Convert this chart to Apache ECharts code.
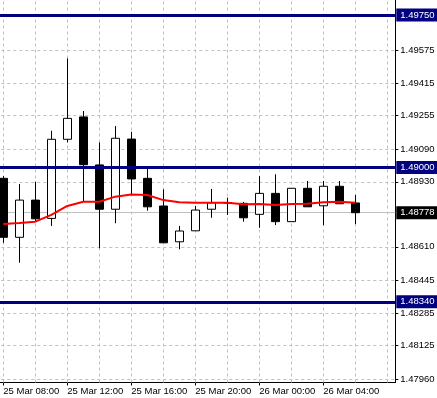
<!DOCTYPE html>
<html><head><meta charset="utf-8">
<script src="https://cdn.jsdelivr.net/npm/echarts@6/dist/echarts.min.js"></script>
<style>html,body{margin:0;padding:0;background:#fff}#c{width:437px;height:398px}</style>
</head><body><div id="c"></div>
<script>
const categories = [
  '25 Mar 08:00','25 Mar 09:00','25 Mar 10:00','25 Mar 11:00','25 Mar 12:00','25 Mar 13:00',
  '25 Mar 14:00','25 Mar 15:00','25 Mar 16:00','25 Mar 17:00','25 Mar 18:00','25 Mar 19:00',
  '25 Mar 20:00','25 Mar 21:00','25 Mar 22:00','25 Mar 23:00','26 Mar 00:00','26 Mar 01:00',
  '26 Mar 02:00','26 Mar 03:00','26 Mar 04:00','26 Mar 05:00','26 Mar 06:00','26 Mar 07:00',
  '26 Mar 08:00'
];
const opens  = [1.48947,1.48657,1.48840,1.48750,1.49139,1.49249,1.49013,1.48795,1.49140,1.48947,1.48811,1.48635,1.48689,1.48795,1.48825,1.48824,1.48770,1.48873,1.48734,1.48898,1.48812,1.48908,1.48826];
const closes = [1.48657,1.48840,1.48748,1.49139,1.49242,1.49014,1.48795,1.49144,1.48944,1.48807,1.48630,1.48688,1.48791,1.48827,1.48828,1.48753,1.48873,1.48734,1.48898,1.48807,1.48908,1.48822,1.48778];
const lows   = [1.48630,1.48532,1.48734,1.48713,1.49124,1.48832,1.48603,1.48726,1.48865,1.48788,1.48630,1.48598,1.48689,1.48753,1.48767,1.48734,1.48704,1.48717,1.48734,1.48807,1.48717,1.48822,1.48722];
const highs  = [1.48958,1.48919,1.48930,1.49181,1.49537,1.49278,1.49124,1.49204,1.49176,1.49003,1.48893,1.48713,1.48811,1.48895,1.48852,1.48831,1.48958,1.48967,1.48898,1.48934,1.48934,1.48934,1.48865];
const maValues = [1.48722,1.48727,1.48734,1.48767,1.48811,1.48832,1.48832,1.48857,1.48868,1.48865,1.48840,1.48829,1.48827,1.48827,1.48827,1.48819,1.48821,1.48816,1.48821,1.48822,1.48829,1.48832,1.48827];
const yTickValues = [1.47960,1.48125,1.48285,1.48445,1.48610,1.48930,1.49090,1.49255,1.49415,1.49575];
const levelValues = [1.49750,1.49000,1.48340];
const currentPrice = 1.48778;
const xGridIndices = [0,2,4,6,8,10,12,14,16,18,20,22,24];
const yMin = 1.47943, yMax = 1.49824;

function hasFont(name){
  const c = document.createElement('canvas').getContext('2d');
  const s = '1.49575 25 Mar 08:00';
  c.font = "20px monospace"; const w0 = c.measureText(s).width;
  c.font = "20px '" + name + "', monospace"; return c.measureText(s).width !== w0;
}
const narrow = hasFont('Liberation Sans Narrow');
const FONT = narrow ? "'Liberation Sans Narrow'" : "'Liberation Sans'";
const FSIZE = narrow ? 11 : 9.5;

const chart = echarts.init(document.getElementById('c'), null, {renderer:'canvas'});
const labelEvery4 = (i) => i % 4 === 0 && i < 24;

chart.setOption({
  animation:false,
  backgroundColor:'#ffffff',
  grid:{left:-4.7, right:41.7, top:0, bottom:15.5, containLabel:false, outerBoundsMode:'none'},
  xAxis:{
    type:'category', data:categories, boundaryGap:true,
    axisLine:{show:true, lineStyle:{color:'#000', width:1}},
    axisTick:{show:true, alignWithLabel:true, interval:labelEvery4, length:3, lineStyle:{color:'#000'}},
    axisLabel:{interval:labelEvery4, align:'left', margin:4, color:'#000', fontFamily:FONT, fontSize:FSIZE},
    splitLine:{show:false}
  },
  yAxis:{
    type:'value', position:'right', min:yMin, max:yMax, scale:true,
    axisLine:{show:true, lineStyle:{color:'#000', width:1}},
    axisTick:{show:true, length:3, customValues:yTickValues, lineStyle:{color:'#000'}},
    axisLabel:{customValues:yTickValues, margin:5, color:'#000', fontFamily:FONT, fontSize:FSIZE,
      formatter:(v)=>Number(v).toFixed(5)},
    splitLine:{show:false}
  },
  series:[
    {
      type:'line', name:'grid', data:categories.map(()=>null), z:1, silent:true,
      markLine:{
        z:1, silent:true, symbol:['none','none'], animation:false, precision:5,
        label:{show:false},
        lineStyle:{color:'#c0c0c0', type:[3,3], width:1},
        data:[
          ...yTickValues.map(v=>({yAxis:v})),
          ...xGridIndices.map(i=>({xAxis:categories[i]})),
          {yAxis:currentPrice, lineStyle:{type:'solid', color:'#c0c0c0', width:1},
           label:{show:true, position:'end', distance:1, backgroundColor:'#000', color:'#fff',
             padding:[2,3,1,4], fontFamily:FONT, fontSize:FSIZE, formatter:(p)=>Number(p.value).toFixed(5)}}
        ]
      }
    },
    {
      type:'candlestick', name:'price', z:2, barWidth:9,
      data:opens.map((o,i)=>[o, closes[i], lows[i], highs[i]]),
      itemStyle:{color:'#ffffff', color0:'#000000', borderColor:'#000000', borderColor0:'#000000', borderWidth:1}
    },
    {
      type:'line', name:'MA', data:maValues, z:3, symbol:'none', smooth:false,
      lineStyle:{color:'#ff0000', width:2},
      markLine:{
        z:5, silent:true, symbol:['none','none'], animation:false, precision:5,
        lineStyle:{color:'#000080', width:3, type:'solid'},
        label:{show:true, position:'end', distance:1, backgroundColor:'#000080', color:'#fff',
          padding:[2,3,1,4], fontFamily:FONT, fontSize:FSIZE, formatter:(p)=>Number(p.value).toFixed(5)},
        data:levelValues.map(v=>({yAxis:v}))
      }
    }
  ]
});
</script>
</body></html>
